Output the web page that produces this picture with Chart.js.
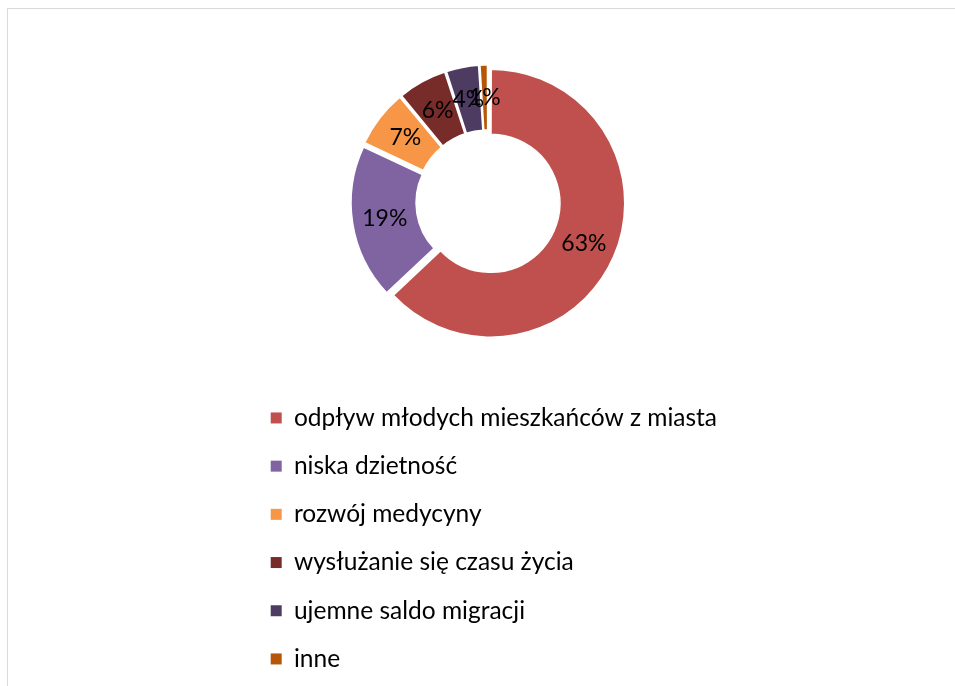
<!DOCTYPE html>
<html><head><meta charset="utf-8">
<script src="https://cdn.jsdelivr.net/npm/chart.js@4/dist/chart.umd.min.js"></script>
<style>
html,body{margin:0;padding:0;background:#fff;overflow:hidden;}
#wrap{position:relative;width:955px;height:686px;overflow:hidden;}
#frame{position:absolute;left:7px;top:8px;width:960px;height:700px;border:1px solid #d9d9d9;box-sizing:border-box;}
#donut{position:absolute;left:0;top:0;}
#legend{position:absolute;}
</style></head><body>
<div id="wrap">
  <div id="frame"></div>
  <canvas id="donut" width="955" height="686"></canvas>
  <canvas id="legend" width="1100" height="340"></canvas>
</div>
<script>
const categories = ['odpływ młodych mieszkańców z miasta','niska dzietność','rozwój medycyny','wysłużanie się czasu życia','ujemne saldo migracji','inne'];
const values = [63, 19, 7, 6, 4, 1];
const colors = ['#C0504D','#8064A2','#F79646','#772C2A','#4D3B62','#B65708'];

const FONT = 'Lato';
const LEGEND_SIZE = 24.5;
const LABEL_SIZE = 23;
const ROW = 48.2;
const EXPLODE = 6;
const CX = 488, CY = 202, R = 131;
const BOX = 11;
const LEGEND_X = 271, LEGEND_Y = 418;

const total = values.reduce((a, b) => a + b, 0);

const pctLabels = {
  id: 'pctLabels',
  afterDatasetsDraw(chart) {
    const ctx = chart.ctx;
    const meta = chart.getDatasetMeta(0);
    ctx.save();
    ctx.font = LABEL_SIZE + 'px "' + FONT + '"';
    ctx.fillStyle = '#000';
    ctx.textAlign = 'center';
    ctx.textBaseline = 'middle';
    meta.data.forEach((arc, i) => {
      const p = arc.getProps(['x', 'y', 'startAngle', 'endAngle', 'innerRadius', 'outerRadius']);
      const a = (p.startAngle + p.endAngle) / 2;
      const r = (p.innerRadius + p.outerRadius) / 2 + EXPLODE;
      ctx.fillText(Math.round(values[i] / total * 100) + '%', p.x + Math.cos(a) * r, p.y + Math.sin(a) * r);
    });
    ctx.restore();
  }
};

// Doughnut chart
new Chart(document.getElementById('donut'), {
  type: 'doughnut',
  data: {
    labels: categories,
    datasets: [{
      data: values,
      backgroundColor: colors,
      borderColor: '#ffffff',
      borderWidth: 1.5,
      offset: (ctx) => {
        const c = ctx.dataset.data[ctx.dataIndex] / total * Math.PI * 2;
        const fix = 1 - Math.sin(Math.min(Math.PI, c));
        return 4 * EXPLODE / (1 + fix);
      },
      hoverOffset: 0
    }]
  },
  options: {
    responsive: false,
    animation: false,
    radius: R,
    cutout: '50.4%',
    layout: { padding: { left: 2 * CX - 955, right: 0, top: 0, bottom: 686 - 2 * CY } },
    plugins: { tooltip: { enabled: false }, legend: { display: false } }
  },
  plugins: [pctLabels]
});

// Legend (vertical list below the doughnut)
const legendPad = ROW - LEGEND_SIZE;
const legendCanvas = document.getElementById('legend');
legendCanvas.style.left = (LEGEND_X - legendPad) + 'px';
legendCanvas.style.top = (LEGEND_Y - legendPad - LEGEND_SIZE / 2) + 'px';
new Chart(legendCanvas, {
  type: 'doughnut',
  data: {
    labels: categories,
    datasets: [{ data: values, backgroundColor: colors, borderWidth: 0 }]
  },
  options: {
    responsive: false,
    animation: false,
    circumference: 0,
    events: [],
    plugins: {
      tooltip: { enabled: false },
      legend: {
        position: 'left',
        align: 'start',
        labels: {
          font: { family: FONT, size: LEGEND_SIZE },
          color: '#000',
          boxWidth: BOX,
          boxHeight: BOX,
          padding: legendPad
        }
      }
    }
  }
});
</script>
</body></html>
